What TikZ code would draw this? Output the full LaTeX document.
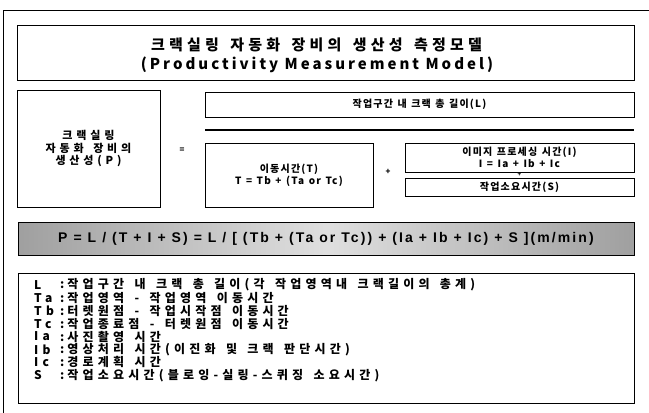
\documentclass[tikz,border=0pt]{standalone}
\usepackage{fontspec}
\setmainfont{Noto Sans CJK KR}[LetterSpace=12, WordSpace=1.3]
\newfontfamily\widekr{Noto Sans CJK KR}[LetterSpace=35, WordSpace=1.5]
\newfontfamily\titlekr{Noto Sans CJK KR}[LetterSpace=28, WordSpace=1.5]
\newfontfamily\titlelatin{Noto Sans CJK KR}[LetterSpace=20]
\newfontfamily\formulafont{Liberation Sans}[LetterSpace=15]
\usetikzlibrary{positioning}

\begin{document}
\begin{tikzpicture}[
  x=1pt, y=-1pt,
  every node/.style={font=\fontsize{10}{12}\selectfont\bfseries, inner sep=0pt},
  box/.style={draw, line width=0.9pt},
  sign/.style={font=\fontsize{8}{9}\selectfont\bfseries},
  legend/.style={anchor=west, font=\fontsize{12}{13}\selectfont\widekr\bfseries}
]
  \useasboundingbox (0,0) rectangle (649,413);
  % frame of the figure
  \coordinate (frameBL) at (3,416);
  \coordinate (frameTR) at (652,10);
  \draw[line width=0.7pt] (frameBL) |- (frameTR);

  % title
  \node[box, minimum width=617pt, minimum height=55pt] (title) at (325.5,52.5) {};
  \node[font=\fontsize{15}{18}\selectfont\titlekr\bfseries] (titlekr) at (316.5,45)
    {크랙실링 자동화 장비의 생산성 측정모델};
  \node[font=\fontsize{15}{18}\selectfont\titlelatin\bfseries] (titleen) at (317,65)
    {(Productivity Measurement Model)};

  % model
  \node[box, minimum width=143pt, minimum height=117pt, align=center,
        font=\fontsize{11}{12.5}\selectfont\widekr\bfseries] (prod) at (88.5,148.5)
    {크랙실링\\자동화 장비의\\생산성(P)};
  \node[sign] (eq) at (182,150) {=};
  \node[box, minimum width=429pt, minimum height=25pt] (len) at (419.5,104.5)
    {작업구간 내 크랙 총 길이(L)};
  \coordinate (barL) at (205,130);
  \coordinate (barR) at (634,130);
  \draw[line width=1.4pt] (barL) -- (barR);
  \node[box, minimum width=168pt, minimum height=64pt, align=center] (move) at (289,175)
    {이동시간(T)\\T = Tb + (Ta or Tc)};
  \node[sign] (plus1) at (388,172) {+};
  \node[box, minimum width=229pt, minimum height=29pt, align=center] (image) at (519.5,157.5)
    {이미지 프로세싱 시간(I)\\I = Ia + Ib + Ic};
  \node[sign, font=\fontsize{6}{7}\selectfont\bfseries] (plus2) at (519.5,175) {+};
  \node[box, minimum width=229pt, minimum height=18pt] (work) at (519.5,187)
    {작업소요시간(S)};

  % formula
  \node[draw, line width=0.9pt, left color=gray!75, right color=gray!75, middle color=gray!25,
        minimum width=616pt, minimum height=33pt, font=\fontsize{14}{16}\selectfont\formulafont\bfseries]
    (formula) at (326,239)
    {P = L / (T + I + S) = L / [ (Tb + (Ta or Tc)) + (Ia + Ib + Ic) + S ](m/min)};

  % legend
  \node[box, minimum width=616pt, minimum height=130pt] (legendbox) at (326,338) {};
  \foreach \k/\t [count=\i] in {
      L/{작업구간 내 크랙 총 길이(각 작업영역내 크랙길이의 총계)},
      Ta/{작업영역 - 작업영역 이동시간},
      Tb/{터렛원점 - 작업시작점 이동시간},
      Tc/{작업종료점 - 터렛원점 이동시간},
      Ia/{사진촬영 시간},
      Ib/{영상처리 시간(이진화 및 크랙 판단시간)},
      Ic/{경로계획 시간},
      S/{작업소요시간(블로잉-실링-스퀴징 소요시간)}} {
    \node[legend] (key\i) at (34,{285+12.9*(\i-1)}) {\k};
    \node[legend] (desc\i) at (60,{285+12.9*(\i-1)}) {:\hspace{3pt}\t};
  }
\end{tikzpicture}
\end{document}
